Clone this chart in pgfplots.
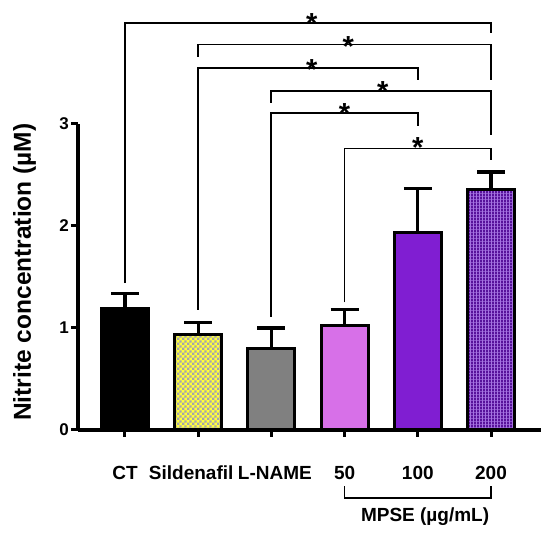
\documentclass[border=0pt]{standalone}
\usepackage{fontspec}
\setmainfont{Liberation Sans}
\usepackage{pgfplots}
\pgfplotsset{compat=1.18}
\usetikzlibrary{patterns}
\pgfdeclarepatternformonly{smallchecker}{\pgfpointorigin}{\pgfpoint{4.8pt}{4.8pt}}{\pgfpoint{4.8pt}{4.8pt}}{%
  \pgfpathrectangle{\pgfpointorigin}{\pgfpoint{2.4pt}{2.4pt}}%
  \pgfpathrectangle{\pgfpoint{2.4pt}{2.4pt}}{\pgfpoint{2.4pt}{2.4pt}}%
  \pgfusepath{fill}}
\pgfdeclarepatternformonly{vstripes}{\pgfpointorigin}{\pgfpoint{3pt}{3pt}}{\pgfpoint{3pt}{3pt}}{%
  \pgfpathrectangle{\pgfpointorigin}{\pgfpoint{2.3pt}{3pt}}%
  \pgfusepath{fill}}
\definecolor{chkyellow}{RGB}{255,255,60}
\definecolor{chkgray}{RGB}{165,165,175}
\definecolor{lname}{RGB}{128,128,128}
\definecolor{mA}{RGB}{215,112,232}
\definecolor{mB}{RGB}{128,30,210}
\definecolor{mClight}{RGB}{165,115,225}
\definecolor{mCdark}{RGB}{88,18,155}
\pgfplotsset{
  mybar/.style={ybar, bar width=47pt, bar shift=0pt, draw=black, line width=3pt},
  ebar/.style={black, line width=3.2pt, forget plot},
}
\begin{document}
\begin{tikzpicture}
\begin{axis}[
  scale only axis, width=463pt, height=306pt,
  xmin=-0.642, xmax=5.683, ymin=0, ymax=3,
  axis x line=bottom, axis y line=left,
  axis line style={-, line width=3.5pt},
  clip=false,
  xtick={0,1,2,3,4,5},
  xticklabels={CT,\hspace*{-14pt}Sildenafil,L-NAME\hspace*{-7pt},50,100,200},
  ytick={0,1,2,3},
  tick align=outside, major tick length=7pt,
  tick style={line width=3pt, black},
  /pgf/number format/assume math mode=true,
  xticklabel style={font=\bfseries\fontsize{19}{19}\selectfont, anchor=base, yshift=-43pt},
  yticklabel style={font=\bfseries\fontsize{17}{17}\selectfont, inner sep=2pt},
  ylabel={Nitrite concentration (µM)},
  ylabel style={at={(axis description cs:-0.1156,0.516)}, anchor=center, rotate=0, font=\bfseries\fontsize{24.5}{24.5}\selectfont},
]
\coordinate (O) at (rel axis cs:0,0);
% significance brackets (drawn first, under the bars)
\addplot[black, line width=1.8pt, forget plot] coordinates {(0,1.44) (0,3.99) (5,3.99) (5,3.89)};
\addplot[black, line width=1.8pt, forget plot] coordinates {(1,3.66) (1,3.78) (5,3.78) (5,3.43)};
\addplot[black, line width=1.8pt, forget plot] coordinates {(1,1.18) (1,3.55) (4,3.55) (4,3.43)};
\addplot[black, line width=1.8pt, forget plot] coordinates {(2,3.21) (2,3.32) (5,3.32) (5,2.89)};
\addplot[black, line width=1.8pt, forget plot] coordinates {(2,1.11) (2,3.11) (4,3.11) (4,2.98)};
\addplot[black, line width=1.8pt, forget plot] coordinates {(3,1.25) (3,2.76) (5,2.76) (5,2.65)};
% error bars (upper): stem and cap
\addplot[ebar] coordinates {(0,1.19) (0,1.34)};
\addplot[ebar] coordinates {(-0.19,1.34) (0.19,1.34)};
\addplot[ebar] coordinates {(1,0.94) (1,1.05)};
\addplot[ebar] coordinates {(0.81,1.05) (1.19,1.05)};
\addplot[ebar] coordinates {(2,0.80) (2,1.00)};
\addplot[ebar] coordinates {(1.81,1.00) (2.19,1.00)};
\addplot[ebar] coordinates {(3,1.02) (3,1.18)};
\addplot[ebar] coordinates {(2.81,1.18) (3.19,1.18)};
\addplot[ebar] coordinates {(4,1.94) (4,2.37)};
\addplot[ebar] coordinates {(3.81,2.37) (4.19,2.37)};
\addplot[ebar] coordinates {(5,2.36) (5,2.53)};
\addplot[ebar] coordinates {(4.81,2.53) (5.19,2.53)};
% bars
\addplot[mybar, fill=black] coordinates {(0,1.19)};
\addplot[mybar, fill=chkyellow, postaction={pattern=smallchecker, pattern color=chkgray}] coordinates {(1,0.94)};
\addplot[mybar, fill=lname] coordinates {(2,0.80)};
\addplot[mybar, fill=mA] coordinates {(3,1.02)};
\addplot[mybar, fill=mB] coordinates {(4,1.94)};
\addplot[mybar, fill=mClight, postaction={pattern=vstripes, pattern color=mCdark}] coordinates {(5,2.36)};
\begin{scope}[every node/.style={font=\bfseries\fontsize{29}{29}\selectfont, anchor=base, inner sep=0pt}]
\node at (axis cs:2.55,3.89) {*};
\node at (axis cs:3.05,3.66) {*};
\node at (axis cs:2.55,3.44) {*};
\node at (axis cs:3.52,3.22) {*};
\node at (axis cs:3.00,3.00) {*};
\node at (axis cs:4.00,2.67) {*};
\end{scope}
% MPSE bracket
\addplot[black, line width=1.8pt, forget plot] coordinates {(3,-0.55) (3,-0.667) (5,-0.667) (5,-0.55)};
\node[font=\bfseries\fontsize{19}{19}\selectfont, anchor=center] at (axis cs:4.10,-0.853) {MPSE (µg/mL)};
\end{axis}
\pgfresetboundingbox
\path[use as bounding box] (O) ++(-78pt,-105pt) rectangle ++(550pt,535pt);
\end{tikzpicture}
\end{document}
